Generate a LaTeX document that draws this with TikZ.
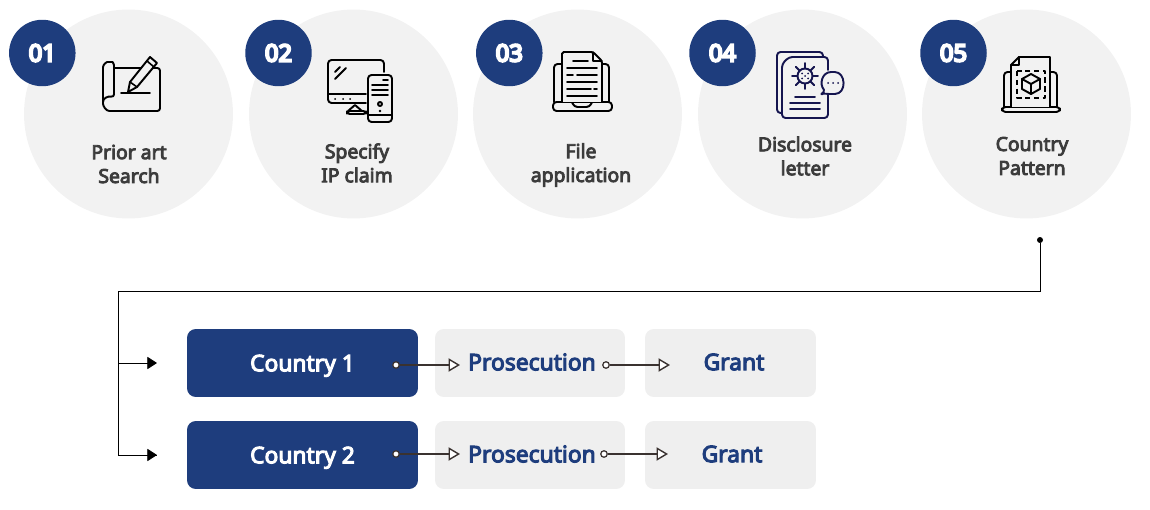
\documentclass[tikz,border=0pt]{standalone}
\usepackage{fontspec}
\setmainfont[FakeBold=4.5]{Noto Sans}
\newfontfamily\badgefont[FakeBold=9]{Noto Sans}
\usetikzlibrary{arrows.meta}
\definecolor{navy}{HTML}{1E3D7D}
\definecolor{discgray}{HTML}{F2F2F2}
\definecolor{boxgray}{HTML}{EFEFEF}
\definecolor{labelgray}{HTML}{3C3C3C}
\definecolor{wirebrown}{HTML}{3A3230}
\definecolor{inkblue}{HTML}{15154F}
\tikzset{
  disc/.style={circle, fill=discgray, minimum size=4.18cm, inner sep=0pt},
  badge/.style={circle, fill=navy, text=white, minimum size=1.33cm, inner sep=0pt, font=\fontsize{13.5}{16}\badgefont},
  steplabel/.style={text=labelgray, align=center, font=\fontsize{11}{13.6}\selectfont},
  countrybox/.style={rounded corners=5pt, fill=navy, text=white, minimum width=4.62cm, minimum height=1.36cm, inner sep=0pt, text depth=0pt, font=\fontsize{13}{16}\selectfont},
  flowbox/.style={rounded corners=5pt, fill=boxgray, minimum height=1.36cm, inner sep=0pt},
  flowtext/.style={text=navy, font=\fontsize{13}{16}\selectfont},
  wiredot/.style={circle, draw=wirebrown, fill=white, line width=0.7pt, minimum size=0.13cm, inner sep=0pt},
  wire/.style={draw=wirebrown, line width=0.8pt, -{Triangle[fill=white, length=6.5pt, width=7.5pt]}},
  trunk/.style={black, line width=0.45pt},
  icon/.style={line width=1.1pt, line join=round, line cap=round},
}
\begin{document}
\begin{tikzpicture}[x=0.02cm, y=-0.02cm]
  \useasboundingbox (0,0) rectangle (1150,510);
  % Kreise
  \foreach \i/\cx/\bx/\num in {1/128.5/42.3/01, 2/353.5/278.5/02, 3/577.5/509.3/03, 4/802.5/722.5/04, 5/1026.5/953.5/05} {
    \node[disc] (disc\i) at (\cx,114) {};
    \node[badge] (badge\i) at (\bx,53) {\num};
  }
  % Beschriftungen
  \node[steplabel] (label1) at (129,164) {Prior art\\Search};
  \node[steplabel] (label2) at (357,163) {Specify\\IP claim};
  \node[steplabel] (label3) at (581,165) {File\\application};
  \node[steplabel] (label4) at (805,156) {Disclosure\\letter};
  \node[steplabel] (label5) at (1032,156) {Country\\Pattern};
  % Icon 1
  \draw[icon, black, rounded corners=1.5pt] (114,68) -- (160,68) -- (160,111) -- (112,111) .. controls (106,111) and (103,106) .. (103,101) -- (103,70) .. controls (103,64) and (107,62) .. (110,62) .. controls (113,62) and (114,65) .. (114,68) -- (114,97) .. controls (108,96) and (103,98) .. (103,102);
  \draw[icon, black, fill=discgray] (128,92) -- (130,82) -- (150,57) -- (157,63) -- (137,87) -- cycle;
  \draw[icon, black, line width=0.9pt] (147,61) -- (154,67) (130,82) -- (137,87);
  \draw[icon, black] (121,93) -- (150,93);
  % Icon 2
  \draw[icon, black, rounded corners=2pt] (384,72) -- (384,60) -- (328,60) -- (328,103) -- (366,103);
  \draw[icon, black] (328,94) -- (366,94);
  \draw[icon, black] (335,79) -- (346,68) (335,72) -- (340,67);
  \fill[black] (335,99) circle (1) (343,99) circle (1) (350,99) circle (1);
  \draw[icon, black] (355,105) -- (348,111) (355,105) -- (362,111);
  \draw[icon, black, rounded corners=1.5pt] (347,111) rectangle (366,114);
  \draw[icon, black, rounded corners=2pt, fill=discgray] (368,75) rectangle (392,122);
  \draw[icon, black] (383,80) -- (388,80) (372,85) -- (388,85) (372,90) -- (388,90) (372,95) -- (388,95) (368,115) -- (392,115);
  \draw[icon, black] (380,104) circle (2);
  \fill[black] (380,111) circle (1.3);
  % Icon 3
  \draw[icon, black, rounded corners=2pt] (562,64) -- (554,64) -- (554,102) (602,64) -- (609,64) -- (609,102);
  \draw[icon, black, rounded corners=2pt] (553,102) rectangle (612,111);
  \draw[icon, black, rounded corners=2pt] (572,102) -- (574,107) -- (590,107) -- (592,102);
  \draw[icon, black, fill=discgray, rounded corners=1pt] (562,102) -- (562,52) -- (593,52) -- (602,61) -- (602,102);
  \draw[icon, black] (593,52) -- (593,61) -- (602,61);
  \draw[icon, black, line width=0.9pt] (573,61) -- (588,61) (567,68) -- (597,68) (567,75) -- (573,75) (577,75) -- (597,75) (567,82) -- (597,82) (567,89) -- (591,89) (594,89) -- (597,89) (567,96) -- (597,96);
  % Icon 4
  \draw[icon, inkblue, rounded corners=2pt] (823,57) -- (823,52) -- (777,52) -- (777,113) -- (782,113);
  \draw[icon, inkblue, rounded corners=2pt] (828,70) -- (828,57) -- (789,57) -- (782,64) -- (782,118) -- (828,118) -- (828,95);
  \draw[icon, inkblue] (805,76) circle (7.5);
  \foreach \a in {0,45,...,315} {
    \draw[icon, inkblue] (\a:7.5) ++(805,76) -- ++(\a:5.5);
  }
  \fill[inkblue] (802,73.5) circle (1) (808,73.5) circle (1) (802,78.5) circle (1) (808,78.5) circle (1) (805,76) circle (1);
  \draw[icon, inkblue] (795,97) -- (815,97) (790,103) -- (820,103) (790,109) -- (820,109);
  \draw[icon, inkblue, fill=discgray, rounded corners=1pt] (820,95) -- (825,91) .. controls (819,84) and (822,72) .. (833,72) .. controls (846,72) and (847,94) .. (833,94) .. controls (830,94) and (827,94) .. (825,93) -- cycle;
  \fill[inkblue] (828,83) circle (1) (833,83) circle (1) (838,83) circle (1);
  % Icon 5
  \draw[icon, black, rounded corners=2pt] (1011,72) -- (1004,72) -- (1004,107) (1050,72) -- (1057,72) -- (1057,107);
  \draw[icon, black, rounded corners=2pt] (1002,107) rectangle (1060,112);
  \draw[icon, black, fill=discgray] (1011,107) -- (1011,65) -- (1019,57) -- (1050,57) -- (1050,107);
  \draw[icon, black] (1019,57) -- (1019,65) -- (1011,65);
  \draw[icon, black, dashed, dash pattern=on 3pt off 2pt, line cap=butt] (1017,71) rectangle (1045,98);
  \draw[icon, black] (1031,74) -- (1040,79) -- (1040,89) -- (1031,94) -- (1022,89) -- (1022,79) -- cycle;
  \draw[icon, black] (1022,79) -- (1031,84) -- (1040,79) (1031,84) -- (1031,94);
  % Zeilen
  \node[countrybox] (country1) at (302.5,363) {Country 1};
  \node[countrybox] (country2) at (302.5,455) {Country 2};
  \node[flowbox, minimum width=3.8cm] (pros1) at (530,363) {};
  \node[flowbox, minimum width=3.8cm] (pros2) at (530,455) {};
  \node[flowbox, minimum width=3.42cm] (grant1) at (730.5,363) {};
  \node[flowbox, minimum width=3.42cm] (grant2) at (730.5,455) {};
  \node[flowtext] (prostext1) at (532,362) {Prosecution};
  \node[flowtext] (prostext2) at (532,454) {Prosecution};
  \node[flowtext] (granttext1) at (734,362) {Grant};
  \node[flowtext] (granttext2) at (732,454) {Grant};
  % Verbinder
  \node[circle, fill=black, minimum size=0.12cm, inner sep=0pt] (srcdot) at (1040,240) {};
  \coordinate (corner) at (118,291);
  \coordinate (branch) at (118,363);
  \coordinate (entry1) at (157,363);
  \coordinate (entry2) at (157,455);
  \draw[trunk] (srcdot) |- (corner) |- (entry2);
  \draw[trunk, -{Triangle[length=5.5pt, width=7pt]}] (branch) -- (entry1);
  \draw[trunk, -{Triangle[length=5.5pt, width=7pt]}] (corner |- entry2) -- (entry2);
  \node[wiredot] (dota1) at (396,365) {};
  \node[wiredot] (dota2) at (396,454) {};
  \node[wiredot] (dotb1) at (606,365) {};
  \node[wiredot] (dotb2) at (604,454) {};
  \coordinate (tipa1) at (460,365);
  \coordinate (tipa2) at (460,454);
  \coordinate (tipb1) at (670,365);
  \coordinate (tipb2) at (668,454);
  \draw[wire] (dota1) -- (tipa1);
  \draw[wire] (dota2) -- (tipa2);
  \draw[wire] (dotb1) -- (tipb1);
  \draw[wire] (dotb2) -- (tipb2);
\end{tikzpicture}
\end{document}
